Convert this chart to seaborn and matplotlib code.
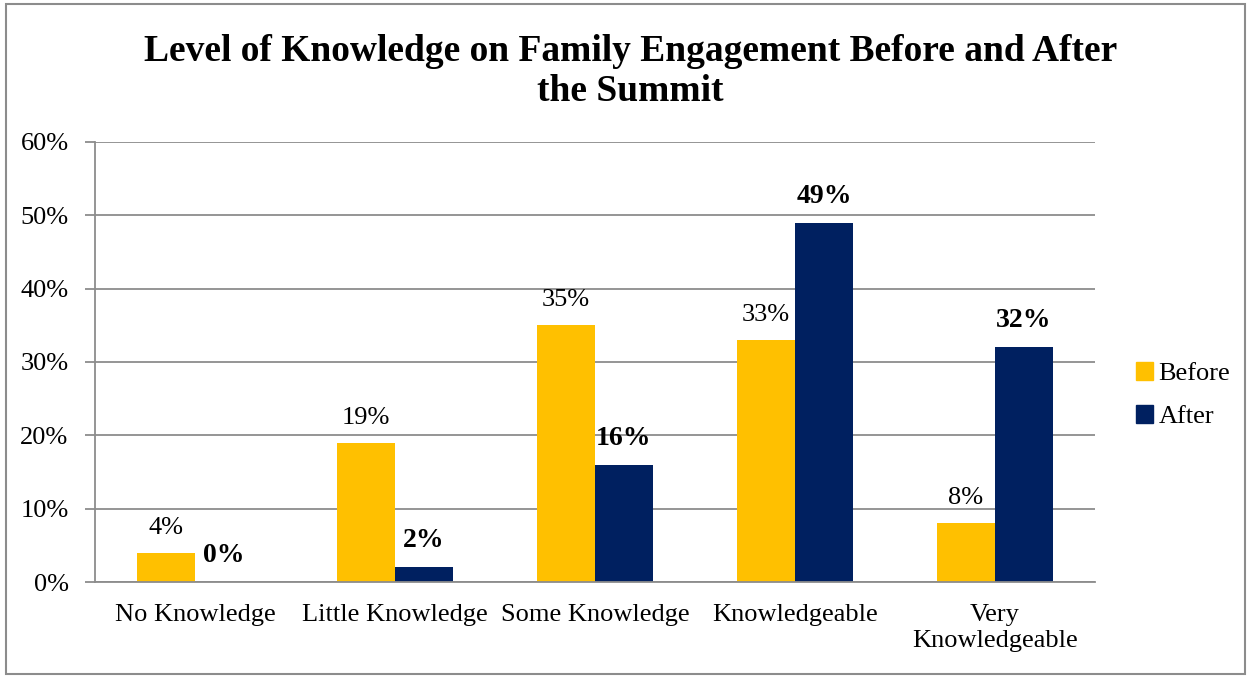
import matplotlib.pyplot as plt
import matplotlib.patches as mpatches
import pandas as pd
import seaborn as sns

# Values (percent)
categories = ["No Knowledge", "Little Knowledge", "Some Knowledge", "Knowledgeable", "Very\nKnowledgeable"]
before = [4, 19, 35, 33, 8]
after = [0, 2, 16, 49, 32]
y_ticks = [0, 10, 20, 30, 40, 50, 60]

df = pd.DataFrame({
    "category": categories * 2,
    "value": before + after,
    "period": ["Before"] * len(categories) + ["After"] * len(categories),
})

sns.set_theme(style="white")
plt.rcParams["font.family"] = ["Liberation Serif", "DejaVu Serif"]

fig = plt.figure(figsize=(12.51, 6.77), dpi=100)
ax = fig.add_axes([0.0759, 0.1403, 0.7994, 0.65])

palette = {"Before": "#FFC000", "After": "#002060"}
sns.barplot(data=df, x="category", y="value", hue="period", palette=palette,
            width=0.58, gap=0, saturation=1, linewidth=0, ax=ax, legend=False)

ax.set_ylim(0, 60)
ax.set_xlim(-0.5, len(categories) - 0.5)
ax.set_yticks(y_ticks)
ax.set_yticklabels([f"{t}%" for t in y_ticks])
ax.yaxis.grid(True, color="#8c8c8c", linewidth=1.3)
ax.set_axisbelow(True)
ax.set_xlabel("")
ax.set_ylabel("")

for s in ["top", "right"]:
    ax.spines[s].set_visible(False)
for s in ["left", "bottom"]:
    ax.spines[s].set_color("#8c8c8c")
    ax.spines[s].set_linewidth(1.3)

ax.set_xticks([i - 0.5 for i in range(len(categories) + 1)], minor=True)
ax.tick_params(axis="x", which="major", length=0, labelsize=19, pad=16)
ax.tick_params(axis="x", which="minor", length=7, width=1.3, color="#8c8c8c", direction="out")
ax.tick_params(axis="y", which="major", length=7, width=1.3, color="#8c8c8c", labelsize=19,
               left=True, direction="out", pad=12)
for lab in ax.get_xticklabels() + ax.get_yticklabels():
    lab.set_color("black")
    lab.set_linespacing(1.25)

# data labels
n = len(categories)
for i, bar in enumerate(ax.patches[:2 * n]):
    val = bar.get_height()
    is_after = i >= n
    ax.annotate(f"{val:.0f}%", (bar.get_x() + bar.get_width() / 2, val),
                xytext=(0, 10), textcoords="offset points", ha="center", va="bottom",
                fontsize=20 if is_after else 19,
                fontweight="bold" if is_after else "normal", color="black")

handles = [mpatches.Patch(color=palette[k], label=k) for k in ["Before", "After"]]
fig.legend(handles=handles, loc="center left", bbox_to_anchor=(0.889, 0.416), frameon=False,
           fontsize=19, handlelength=0.65, handleheight=0.65, handletextpad=0.2,
           labelspacing=0.75, labelcolor="black")

fig.suptitle("Level of Knowledge on Family Engagement Before and After\nthe Summit",
             x=0.504, y=0.95, fontsize=27, fontweight="bold", linespacing=1.2, color="black")

# outer chart border
fig.patches.append(mpatches.Rectangle((0.005, 0.004), 0.99, 0.99, transform=fig.transFigure,
                                      fill=False, edgecolor="#8c8c8c", linewidth=1.5))

fig.savefig("out.png", dpi=100)
